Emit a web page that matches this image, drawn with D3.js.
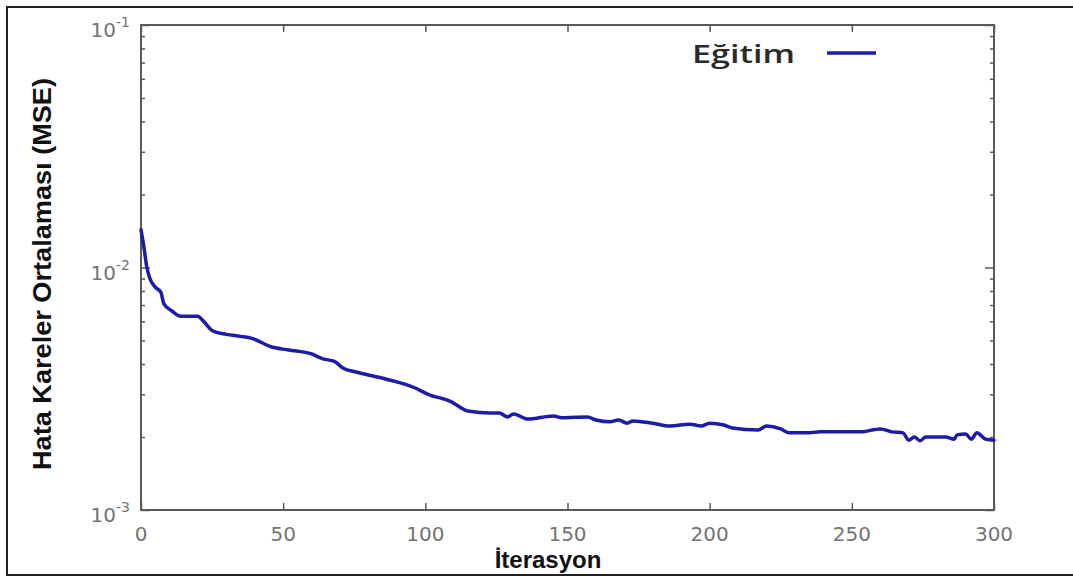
<!DOCTYPE html>
<html>
<head>
<meta charset="utf-8">
<script src="https://cdn.jsdelivr.net/npm/d3@7"></script>
<style>
    body { margin: 0; background: #fff; }
    svg { display: block; }
    .tick-label { font-family: "DejaVu Sans", sans-serif; fill: #737373; }
</style>
</head>
<body>
<svg width="1073" height="578"></svg>
<script>
const width = 1073, height = 578;

// Training curve
const iterations = [0, 1, 2, 3, 5, 7, 8, 11, 14, 20,
    22, 25, 30, 35, 39, 46, 52, 60, 64, 68,
    71, 76, 86, 96, 101, 109, 115, 123, 126, 129,
    131, 136, 145, 148, 157, 160, 165, 168, 171, 173,
    180, 186, 193, 197, 200, 205, 208, 217, 220, 225,
    228, 234, 239, 245, 253, 260, 264, 268, 270, 272,
    274, 276, 283, 286, 287, 290, 292, 294, 297, 300];
const mse = [0.0143, 0.0122, 0.0101, 0.0091, 0.0083, 0.0079, 0.0071, 0.0066, 0.0063, 0.0063,
    0.0060, 0.0055, 0.0053, 0.0052, 0.0051, 0.0047, 0.00457, 0.0044, 0.0042, 0.0041,
    0.00385, 0.0037, 0.00347, 0.0032, 0.0030, 0.0028, 0.00256, 0.00251, 0.00251, 0.00242,
    0.00249, 0.00237, 0.00244, 0.0024, 0.00242, 0.00235, 0.00231, 0.00235, 0.00228, 0.00233,
    0.00228, 0.00222, 0.00226, 0.00222, 0.00228, 0.00224, 0.00218, 0.00214, 0.00222, 0.00216,
    0.00208, 0.00208, 0.0021, 0.0021, 0.0021, 0.00216, 0.0021, 0.00208, 0.00194, 0.002,
    0.00193, 0.002, 0.002, 0.00196, 0.00204, 0.00206, 0.00196, 0.00208, 0.00196, 0.00194];

const xTicks = [0, 50, 100, 150, 200, 250, 300];
const yTicks = [1e-3, 1e-2, 1e-1];
const yTickExp = ["-3", "-2", "-1"];
const seriesName = "Eğitim";
const xTitle = "İterasyon";
const yTitle = "Hata Kareler Ortalaması (MSE)";

const lineColor = "#1c1ca6";
const axisColor = "#5a5a5a";

const margin = {left: 141, right: 79, top: 25, bottom: 68};

drawChart();

function drawChart() {
    const svg = d3.select("svg").attr("viewBox", [0, 0, width, height]);

    // outer frame of the figure
    svg.append("rect")
        .attr("x", 7).attr("y", 7)
        .attr("width", width).attr("height", height - 10)
        .attr("fill", "none")
        .attr("stroke", "#222")
        .attr("stroke-width", 2);

    const x = d3.scaleLinear()
        .domain([0, 300])
        .range([margin.left, width - margin.right]);
    const y = d3.scaleLog()
        .domain([1e-3, 1e-1])
        .range([height - margin.bottom, margin.top]);

    const x0 = x.range()[0], x1 = x.range()[1];
    const y0 = y.range()[0], y1 = y.range()[1];

    // all minor log ticks between decades
    const minorTicks = y.ticks().filter(v => !yTicks.includes(v));

    const axes = svg.append("g");

    // bottom + top: ticks pointing inward
    axes.append("g")
        .attr("transform", `translate(0,${y0})`)
        .call(d3.axisBottom(x).tickValues(xTicks).tickSize(-7).tickFormat(""));
    axes.append("g")
        .attr("transform", `translate(0,${y1})`)
        .call(d3.axisTop(x).tickValues(xTicks).tickSize(-7).tickFormat(""));

    // left + right: major and minor inward ticks
    axes.append("g")
        .attr("transform", `translate(${x0},0)`)
        .call(d3.axisLeft(y).tickValues(yTicks).tickSize(-9).tickFormat(""));
    axes.append("g")
        .attr("transform", `translate(${x0},0)`)
        .call(d3.axisLeft(y).tickValues(minorTicks).tickSize(-4).tickFormat(""));
    axes.append("g")
        .attr("transform", `translate(${x1},0)`)
        .call(d3.axisRight(y).tickValues(yTicks).tickSize(-9).tickFormat(""));
    axes.append("g")
        .attr("transform", `translate(${x1},0)`)
        .call(d3.axisRight(y).tickValues(minorTicks).tickSize(-4).tickFormat(""));

    axes.selectAll(".domain").remove();
    axes.selectAll("line").attr("stroke", axisColor).attr("stroke-width", 1.5);

    svg.append("rect")
        .attr("x", x0).attr("y", y1)
        .attr("width", x1 - x0).attr("height", y0 - y1)
        .attr("fill", "none")
        .attr("stroke", axisColor)
        .attr("stroke-width", 2);

    // x tick labels
    svg.append("g")
        .selectAll("text")
        .data(xTicks)
        .join("text")
        .attr("class", "tick-label")
        .attr("x", d => x(d))
        .attr("y", y0 + 31)
        .attr("text-anchor", "middle")
        .attr("font-size", 20)
        .text(d => d);

    // y tick labels as 10 with a superscript
    const yl = svg.append("g")
        .selectAll("text")
        .data(yTicks)
        .join("text")
        .attr("class", "tick-label")
        .attr("x", x0 - 11)
        .attr("y", d => y(d) + 12)
        .attr("text-anchor", "end")
        .attr("font-size", 20);
    yl.append("tspan").text("10");
    yl.append("tspan")
        .attr("dy", -10)
        .attr("font-size", 14)
        .text((d, i) => yTickExp[i]);

    // the curve
    const line = d3.line()
        .x((d, i) => x(iterations[i]))
        .y(d => y(d))
        .curve(d3.curveMonotoneX);

    svg.append("path")
        .datum(mse)
        .attr("d", line)
        .attr("fill", "none")
        .attr("stroke", lineColor)
        .attr("stroke-width", 3.5)
        .attr("stroke-linejoin", "round")
        .attr("stroke-linecap", "round");

    // legend
    svg.append("text")
        .attr("x", 692)
        .attr("y", 63)
        .attr("font-family", "'Open Sans', sans-serif")
        .attr("font-size", 25)
        .attr("font-weight", 600)
        .attr("fill", "#2a2a2a")
        .attr("textLength", 103)
        .attr("lengthAdjust", "spacingAndGlyphs")
        .text(seriesName);
    svg.append("line")
        .attr("x1", 827).attr("x2", 876)
        .attr("y1", 53).attr("y2", 53)
        .attr("stroke", lineColor)
        .attr("stroke-width", 3.5);

    // axis titles
    svg.append("text")
        .attr("x", 548)
        .attr("y", 568)
        .attr("text-anchor", "middle")
        .attr("font-family", "'Liberation Sans Narrow', 'Liberation Sans', sans-serif")
        .attr("font-size", 24)
        .attr("font-weight", "bold")
        .attr("fill", "#111")
        .text(xTitle);

    svg.append("text")
        .attr("transform", `translate(51,274) rotate(-90)`)
        .attr("text-anchor", "middle")
        .attr("font-family", "'Liberation Sans', Arial, sans-serif")
        .attr("font-size", 26)
        .attr("font-weight", "bold")
        .attr("fill", "#111")
        .attr("textLength", 392)
        .attr("lengthAdjust", "spacingAndGlyphs")
        .text(yTitle);
}
</script>
</body>
</html>
